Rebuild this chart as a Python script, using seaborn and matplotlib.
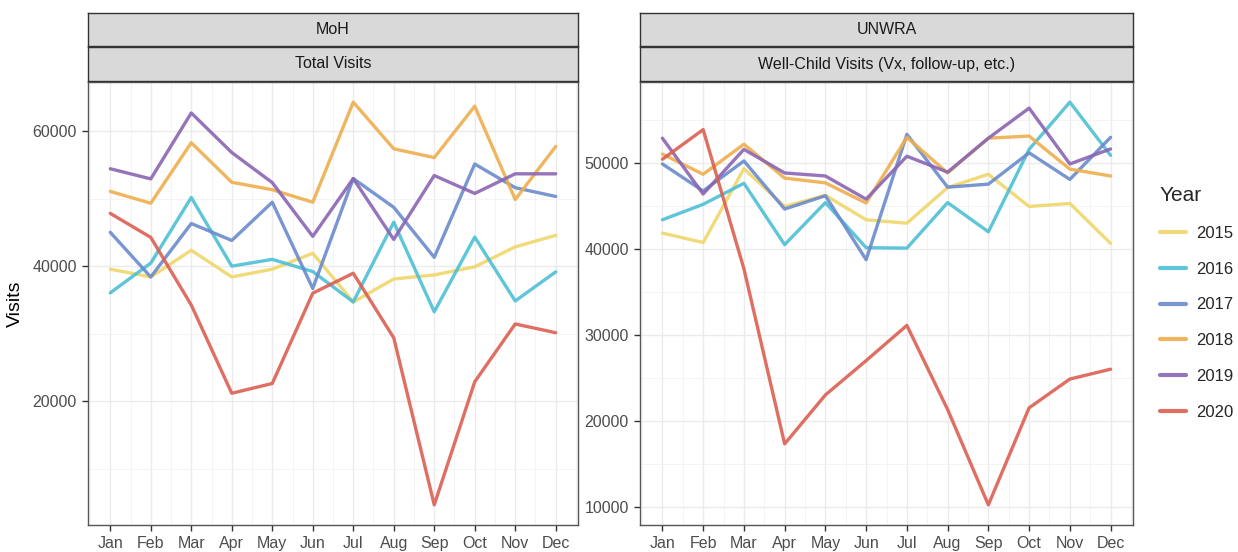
import matplotlib
matplotlib.use("Agg")
import matplotlib.pyplot as plt
from matplotlib.lines import Line2D
from matplotlib.ticker import MultipleLocator
import pandas as pd
import seaborn as sns

month_labels = ["Jan", "Feb", "Mar", "Apr", "May", "Jun",
                "Jul", "Aug", "Sep", "Oct", "Nov", "Dec"]
months = list(range(1, 13))
years = ["2015", "2016", "2017", "2018", "2019", "2020"]
year_colors = ["#F0D66A", "#4DBFD5", "#6A8BCC", "#EEAE4E", "#8A65B3", "#DC5F52"]

# MoH - Total Visits
moh_2015 = [39550, 38400, 42350, 38400, 39550, 41900, 34700, 38100, 38700, 39900, 42850, 44550]
moh_2016 = [36050, 40450, 50150, 40000, 41000, 39200, 34700, 46500, 33250, 44300, 34850, 39150]
moh_2017 = [45000, 38400, 46300, 43800, 49450, 36700, 52950, 48700, 41300, 55100, 51600, 50300]
moh_2018 = [51050, 49300, 58250, 52400, 51300, 49450, 64250, 57350, 56050, 63650, 49850, 57700]
moh_2019 = [54400, 52900, 62650, 56800, 52350, 44400, 52950, 43950, 53400, 50750, 53650, 53650]
moh_2020 = [47800, 44250, 34250, 21200, 22650, 36000, 38950, 29400, 4700, 22900, 31450, 30150]

# UNWRA - Well-Child Visits
unw_2015 = [41850, 40750, 49350, 44950, 46250, 43400, 43000, 47150, 48700, 44950, 45300, 40650]
unw_2016 = [43400, 45200, 47650, 40500, 45400, 40150, 40100, 45400, 42000, 51600, 57100, 50900]
unw_2017 = [49900, 46750, 50250, 44650, 46200, 38750, 53350, 47200, 47550, 51200, 48100, 53000]
unw_2018 = [51050, 48700, 52200, 48250, 47700, 45350, 53000, 48850, 52900, 53150, 49300, 48500]
unw_2019 = [52900, 46400, 51600, 48850, 48500, 45800, 50800, 48950, 52900, 56400, 49900, 51650]
unw_2020 = [50450, 53900, 37700, 17300, 23000, 27000, 31100, 21300, 10200, 21500, 24850, 26000]


def to_long(series):
    rows = []
    for year, vals in zip(years, series):
        for m, v in zip(months, vals):
            rows.append({"Month": m, "Year": year, "Visits": v})
    return pd.DataFrame(rows)


moh = to_long([moh_2015, moh_2016, moh_2017, moh_2018, moh_2019, moh_2020])
unw = to_long([unw_2015, unw_2016, unw_2017, unw_2018, unw_2019, unw_2020])
palette = dict(zip(years, year_colors))

sns.set_theme(style="white")
plt.rcParams["font.family"] = ["Liberation Sans", "DejaVu Sans"]

W, H = 1238, 552
fig = plt.figure(figsize=(W / 100, H / 100), dpi=100)


def px_axes(x0, x1, y0, y1):
    return fig.add_axes([x0 / W, 1 - y1 / H, (x1 - x0) / W, (y1 - y0) / H])


def panel(df, x0, x1, top_label, sub_label, major, minor, ylabel):
    ax = px_axes(x0, x1, 82, 525)
    sns.lineplot(data=df, x="Month", y="Visits", hue="Year", palette=palette,
                 linewidth=2.4, alpha=0.9, legend=False, ax=ax)
    lo, hi = df["Visits"].min(), df["Visits"].max()
    pad = (hi - lo) * 0.05
    ax.set_ylim(lo - pad, hi + pad)
    ax.set_xlim(1 - 0.55, 12 + 0.55)
    ax.set_xticks(months)
    ax.set_xticklabels(month_labels)
    ax.xaxis.set_minor_locator(MultipleLocator(0.5))
    ax.yaxis.set_major_locator(MultipleLocator(major))
    ax.yaxis.set_minor_locator(MultipleLocator(minor))
    ax.grid(True, which="major", color="#EBEBEB", linewidth=1.0)
    ax.grid(True, which="minor", color="#F2F2F2", linewidth=0.6)
    ax.set_axisbelow(True)
    for s in ax.spines.values():
        s.set_color("#555555")
        s.set_linewidth(1.0)
    ax.tick_params(which="major", direction="out", length=4, width=1.0,
                   color="#333333", labelcolor="#4D4D4D", labelsize=11.5,
                   bottom=True, left=True, pad=4)
    ax.tick_params(which="minor", length=0)
    ax.set_xlabel("")
    ax.set_ylabel(ylabel, fontsize=14, color="black", labelpad=6)
    for (y0, y1, label) in [(13, 46, top_label), (47, 81, sub_label)]:
        sa = px_axes(x0, x1, y0, y1)
        sa.set_facecolor("#D9D9D9")
        sa.set_xticks([])
        sa.set_yticks([])
        for s in sa.spines.values():
            s.set_color("#333333")
            s.set_linewidth(1.0)
        sa.text(0.5, 0.5, label, ha="center", va="center", fontsize=11.5,
                color="#1A1A1A", transform=sa.transAxes)
    return ax


panel(moh, 88, 578, "MoH", "Total Visits", 20000, 10000, "Visits")
panel(unw, 640, 1133, "UNWRA", "Well-Child Visits (Vx, follow-up, etc.)",
      10000, 5000, "")

handles = [Line2D([], [], color=c, linewidth=3, alpha=0.9) for c in year_colors]
leg = fig.legend(handles, years, title="Year", loc="upper left",
                 bbox_to_anchor=(1145 / W, 1 - 171 / H), frameon=False,
                 fontsize=12, title_fontsize=15, handlelength=1.55,
                 labelspacing=1.25, handletextpad=0.6)
leg._legend_box.align = "left"

fig.savefig("out.png", dpi=100)
